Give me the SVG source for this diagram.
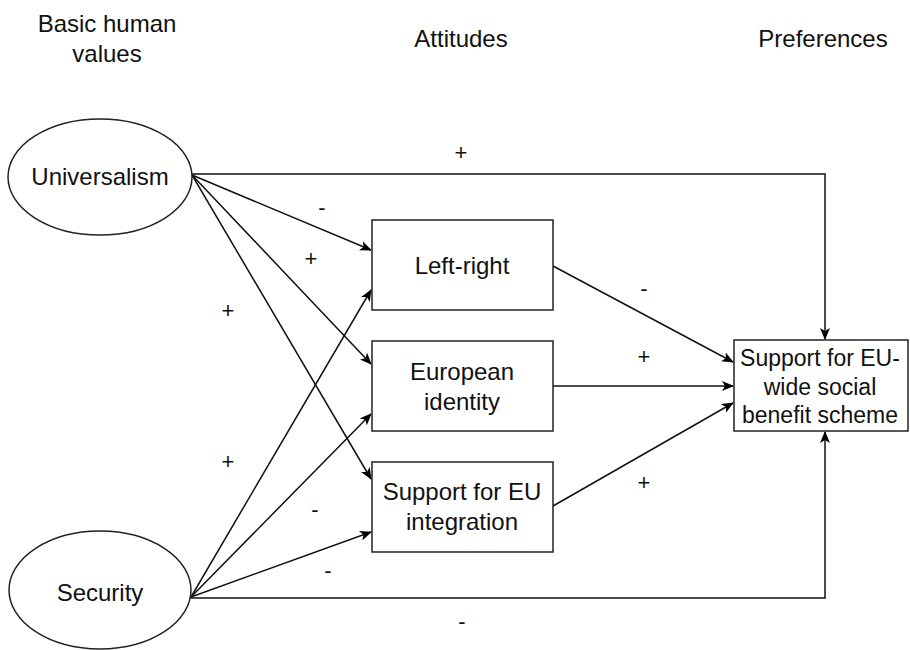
<svg xmlns="http://www.w3.org/2000/svg" width="910" height="650" viewBox="0 0 910 650">
<defs>
<marker id="arr" viewBox="0 0 12 10" refX="11" refY="5" markerWidth="12" markerHeight="10" markerUnits="userSpaceOnUse" orient="auto">
<path d="M0,0 L12,5 L0,10 L3,5 Z" fill="#000"/>
</marker>
</defs>
<style>
text{font-family:"Liberation Sans",Arial,sans-serif;font-size:24px;fill:#111;text-anchor:middle}
.node{fill:#fff;stroke:#222;stroke-width:1.5}
.edge{fill:none;stroke:#111;stroke-width:1.5;marker-end:url(#arr)}
.sign{font-size:22px}
</style>
<rect width="910" height="650" fill="#fff"/>
<g id="headers">
<text x="107" y="32">Basic human</text>
<text x="107" y="62">values</text>
<text x="461" y="47">Attitudes</text>
<text x="823" y="47">Preferences</text>
</g>
<g id="connectors">
<path class="edge" d="M192,174 H825 V339"/>
<path class="edge" d="M191,598 H825 V432"/>
<path class="edge" d="M192,175 L371,250"/>
<path class="edge" d="M192,175 L371,364"/>
<path class="edge" d="M192,175 L371,479"/>
<path class="edge" d="M191,597 L371,290"/>
<path class="edge" d="M191,597 L371,414"/>
<path class="edge" d="M191,597 L371,532"/>
<path class="edge" d="M553,266 L733,362"/>
<path class="edge" d="M553,386 L733,386"/>
<path class="edge" d="M553,506 L733,403"/>
</g>
<g id="labels">
<text class="sign" x="461" y="160">+</text>
<text class="sign" x="322" y="215">-</text>
<text class="sign" x="311" y="266">+</text>
<text class="sign" x="228" y="318">+</text>
<text class="sign" x="228" y="469">+</text>
<text class="sign" x="315" y="517">-</text>
<text class="sign" x="328" y="578">-</text>
<text class="sign" x="462" y="629">-</text>
<text class="sign" x="644" y="296">-</text>
<text class="sign" x="644" y="364">+</text>
<text class="sign" x="644" y="490">+</text>
</g>
<g id="universalism">
<ellipse class="node" cx="100" cy="177" rx="92" ry="58"/>
<text x="100" y="185">Universalism</text>
</g>
<g id="security">
<ellipse class="node" cx="100" cy="590" rx="91" ry="59"/>
<text x="100" y="601">Security</text>
</g>
<g id="left-right">
<rect class="node" x="372" y="220" width="181" height="90"/>
<text x="462" y="274">Left-right</text>
</g>
<g id="european-identity">
<rect class="node" x="372" y="341" width="181" height="90"/>
<text x="462" y="380">European</text>
<text x="462" y="410">identity</text>
</g>
<g id="eu-integration">
<rect class="node" x="372" y="462" width="181" height="90"/>
<text x="462" y="500">Support for EU</text>
<text x="462" y="530">integration</text>
</g>
<g id="benefit-scheme">
<rect class="node" x="734" y="340" width="174" height="91"/>
<text x="820" y="366" style="font-size:23px">Support for EU-</text>
<text x="820" y="395" style="font-size:23px">wide social</text>
<text x="820" y="423" style="font-size:23px">benefit scheme</text>
</g>
</svg>
